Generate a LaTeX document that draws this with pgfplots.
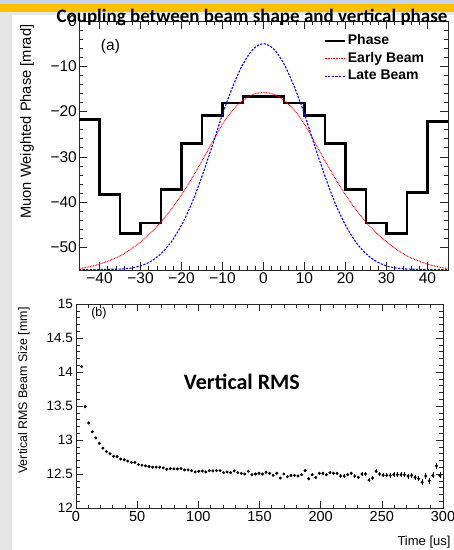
\documentclass[border=0pt]{standalone}
\usepackage{fontspec}
\setmainfont{Liberation Sans}
\newfontfamily\calibri{Carlito}
\usepackage{pgfplots}
\pgfplotsset{compat=1.18}

\definecolor{slidegray}{HTML}{E6E6E6}
\definecolor{slidebar}{HTML}{FFC000}
\definecolor{slidetop}{HTML}{C8D4E8}

% phase histogram, left bin edges (last point closes the final bin)
\pgfplotstableread{
x y
-45 -21.7
-40 -38.3
-35 -46.9
-30 -44.6
-25 -37.2
-20 -27.0
-15 -20.8
-10 -18.1
-5 -16.6
0 -16.6
5 -18.1
10 -20.8
15 -27.0
20 -37.2
25 -44.6
30 -46.9
35 -37.9
40 -22.2
45 -22.2
}\phasedata

\pgfplotstableread{
x early late
-45 -54.7 -54.95
-42.5 -54.3 -54.95
-40 -53.7 -54.9
-37.5 -52.9 -54.85
-35 -51.9 -54.8
-32.5 -50.5 -54.6
-30 -48.8 -54.1
-27.5 -46.8 -53.1
-25 -44.4 -51.4
-22.5 -41.6 -48.8
-20 -38.4 -45.1
-17.5 -34.8 -40.3
-15 -30.9 -34.3
-12.5 -26.8 -27.6
-10 -22.8 -20.6
-7.5 -19.7 -14.5
-5 -17.5 -9.5
-2.5 -16.2 -6.2
0 -15.8 -5.0
2.5 -16.2 -6.2
5 -17.5 -9.5
7.5 -19.7 -14.5
10 -22.8 -20.6
12.5 -26.8 -27.6
15 -30.9 -34.3
17.5 -34.8 -40.3
20 -38.4 -45.1
22.5 -41.6 -48.8
25 -44.4 -51.4
27.5 -46.8 -53.1
30 -48.8 -54.1
32.5 -50.5 -54.6
35 -51.9 -54.8
37.5 -52.9 -54.85
40 -53.7 -54.9
42.5 -54.3 -54.95
45 -54.7 -54.95
}\beamdata

\pgfplotstableread{
x y e
4.6 14.08 0.004
7.5 13.49 0.004
10.4 13.25 0.004
13.3 13.12 0.004
16.2 13.03 0.004
19.1 12.95 0.004
22.0 12.88 0.004
24.9 12.83 0.004
27.8 12.80 0.004
30.7 12.76 0.004
33.6 12.755 0.005
36.5 12.72 0.005
39.4 12.71 0.005
42.3 12.69 0.005
45.2 12.67 0.005
48.1 12.67 0.005
51.0 12.64 0.005
53.9 12.63 0.005
56.8 12.62 0.006
59.7 12.61 0.006
62.6 12.60 0.006
65.5 12.60 0.006
68.4 12.60 0.007
71.3 12.59 0.007
74.2 12.57 0.007
77.1 12.58 0.007
80.0 12.575 0.008
82.9 12.575 0.008
85.8 12.58 0.008
88.7 12.56 0.008
91.6 12.56 0.009
94.5 12.55 0.009
97.4 12.53 0.009
100.3 12.54 0.009
103.2 12.545 0.010
106.1 12.53 0.010
109.0 12.55 0.010
111.9 12.545 0.010
114.8 12.55 0.011
117.7 12.55 0.011
120.6 12.52 0.011
123.5 12.53 0.011
126.4 12.52 0.012
129.3 12.545 0.012
132.2 12.52 0.012
135.1 12.51 0.012
138.0 12.50 0.013
140.9 12.54 0.013
143.8 12.49 0.013
146.7 12.50 0.013
149.6 12.51 0.014
152.5 12.50 0.014
155.4 12.525 0.014
158.3 12.51 0.015
161.2 12.48 0.015
164.1 12.51 0.015
167.0 12.44 0.016
169.9 12.50 0.016
172.8 12.46 0.016
175.7 12.48 0.017
178.6 12.48 0.017
181.5 12.47 0.018
184.4 12.49 0.018
187.3 12.55 0.018
190.2 12.43 0.019
193.1 12.49 0.019
196.0 12.45 0.020
198.9 12.51 0.020
201.8 12.51 0.021
204.7 12.49 0.021
207.6 12.52 0.022
210.5 12.51 0.022
213.4 12.51 0.023
216.3 12.47 0.023
219.2 12.47 0.024
222.1 12.49 0.024
225.0 12.51 0.025
227.9 12.47 0.025
230.8 12.45 0.026
233.7 12.50 0.027
236.6 12.50 0.027
239.5 12.41 0.028
242.4 12.44 0.029
245.3 12.54 0.029
248.2 12.50 0.030
251.1 12.48 0.031
254.0 12.48 0.031
256.9 12.48 0.032
259.8 12.49 0.033
262.7 12.49 0.034
265.6 12.49 0.035
268.5 12.49 0.036
271.4 12.47 0.037
274.3 12.48 0.038
277.2 12.45 0.039
280.1 12.43 0.040
283.0 12.38 0.041
285.9 12.47 0.042
288.8 12.40 0.043
291.7 12.48 0.044
294.6 12.62 0.045
297.5 12.48 0.046
}\rmsdata

\pgfplotsset{
  rootframe/.style={
    scale only axis,
    tick align=inside,
    xtick pos=both, ytick pos=both,
    minor x tick num=4, minor y tick num=4,
    axis line style={black!85, line width=0.7pt},
    every tick/.style={black!85, line width=0.6pt},
    /pgf/number format/assume math mode=true,
    clip=true,
  },
}

\begin{document}
\begin{tikzpicture}
% slide background
\fill[slidegray] (0pt,0pt) rectangle (454pt,550pt);
\fill[slidetop] (0pt,546pt) rectangle (454pt,550pt);
\fill[slidebar] (0pt,538pt) rectangle (454pt,546pt);
\fill[white] (12pt,0pt) rectangle (454pt,535pt);
\path[use as bounding box] (0pt,0pt) rectangle (454pt,550pt);

% ---------- (a) phase vs vertical position ----------
\begin{axis}[
    rootframe,
    at={(79pt,280pt)}, anchor=south west,
    width=369pt, height=249pt,
    xmin=-45, xmax=45, ymin=-55, ymax=0,
    xtick={-40,-30,-20,-10,0,10,20,30,40},
    xticklabels={−40,−30,−20,−10,0,10,20,30,40},
    ytick={-50,-40,-30,-20,-10,0},
    yticklabels={−50,−40,−30,−20,−10,0},
    major tick length=8pt, minor tick length=4pt,
    tick label style={font=\fontsize{15.5}{18}\selectfont},
    xticklabel style={inner sep=2.5pt},
    yticklabel style={inner sep=2pt},
    ylabel={Muon Weighted Phase [mrad]},
    ylabel style={at={(axis description cs:-0.141,1)}, anchor=east,
                  font=\fontsize{14.7}{17}\selectfont},
    legend style={at={(rel axis cs:0.661,0.947)}, anchor=north west,
                  draw=none, fill=none, inner sep=0pt, row sep=4.6pt,
                  font=\bfseries\fontsize{14}{16}\selectfont,
                  nodes={text height=10pt, text depth=3pt, inner ysep=0pt},
                  cells={anchor=west}},
    legend image code/.code={\draw[#1] (0pt,0pt) -- (20pt,0pt);},
]
\addplot[const plot, line width=2.8pt, black, line join=miter] table[x=x,y=y] {\phasedata};
\addlegendentry{Phase}
\addplot[smooth, red, line width=1pt, dash pattern=on 0.8pt off 0.8pt] table[x=x,y=early] {\beamdata};
\addlegendentry{Early Beam}
\addplot[smooth, blue, line width=1.1pt, dash pattern=on 2.2pt off 1.4pt] table[x=x,y=late] {\beamdata};
\addlegendentry{Late Beam}
\node[anchor=west, font=\fontsize{15.5}{18}\selectfont] at (rel axis cs:0.05,0.896) {(a)};
\end{axis}

% ---------- (b) vertical RMS beam size vs time ----------
\begin{axis}[
    rootframe,
    at={(76pt,42pt)}, anchor=south west,
    width=367pt, height=204pt,
    xmin=0, xmax=300, ymin=12, ymax=15,
    xtick={0,50,100,150,200,250,300},
    ytick={12,12.5,13,13.5,14,14.5,15},
    yticklabels={12,12.5,13,13.5,14,14.5,15},
    major tick length=7pt, minor tick length=3.5pt,
    tick label style={font=\fontsize{13.5}{16}\selectfont},
    xticklabel style={inner sep=3.5pt, font=\fontsize{14.5}{17}\selectfont},
    yticklabel style={inner sep=3pt},
    xlabel={Time [us]},
    xlabel style={at={(axis description cs:1.03,-0.165)}, anchor=east,
                  font=\fontsize{13}{15}\selectfont},
    ylabel={Vertical RMS Beam Size [mm]},
    ylabel style={at={(axis description cs:-0.142,1)}, anchor=east,
                  font=\fontsize{12.4}{15}\selectfont},
]
\addplot[only marks, black, mark=*, mark size=1.3pt,
    error bars/.cd, y dir=both, y explicit,
    error mark=none, error bar style={line width=0.6pt, black}]
    table[x=x, y=y, y error=e] {\rmsdata};
\node[anchor=west, font=\fontsize{12.5}{15}\selectfont] at (rel axis cs:0.032,0.955) {(b)};
\node[font=\calibri\bfseries\fontsize{22}{26}\selectfont] at (rel axis cs:0.452,0.619) {Vertical RMS};
\end{axis}

% slide title overlapping the top frame
\node[anchor=base, font=\calibri\bfseries\fontsize{19}{22}\selectfont] at (252pt,527.5pt)
  {Coupling between beam shape and vertical phase};
\end{tikzpicture}
\end{document}
